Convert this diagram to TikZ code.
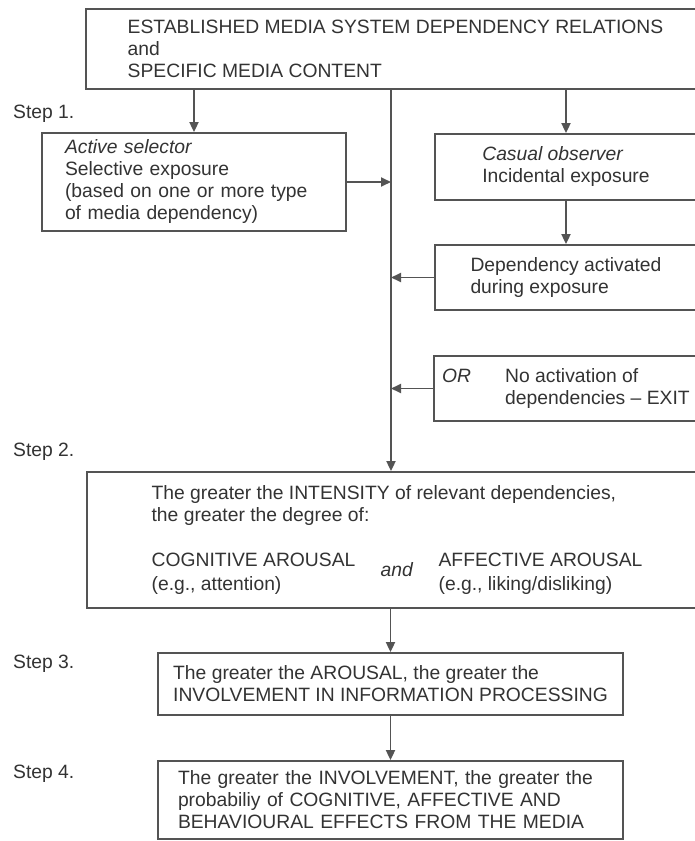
\documentclass[tikz,border=0pt]{standalone}
\usepackage{fontspec}
\setmainfont{Liberation Sans}
\usetikzlibrary{arrows.meta}
\definecolor{ink}{gray}{0.2}
\definecolor{rulegray}{gray}{0.33}
\begin{document}
\begin{tikzpicture}[x=1pt, y=-1pt,
    font=\fontsize{19.3}{22}\selectfont, text=ink,
    box/.style={draw=rulegray, line width=1.8pt, fill=white, align=left, inner sep=2pt},
    arr/.style={draw=rulegray, line width=1.8pt, -{Triangle[length=10pt,width=9pt]}},
    stepnote/.style={anchor=west, inner sep=0pt}]
  \useasboundingbox (0,0) rectangle (695,841);
  \fill[white] (0,0) rectangle (695,841);
  % top of the chart
  \node[box, minimum width=619pt, minimum height=80pt] (estab) at (395.5,49)
       {ESTABLISHED MEDIA SYSTEM DEPENDENCY RELATIONS\\and\\SPECIFIC MEDIA CONTENT};
  \coordinate (spine) at (391,89);
  % step 1
  \node[box, minimum width=304pt, minimum height=98pt, text width=258pt] (active) at (194,182)
       {\textit{Active selector}\\Selective exposure\\(based on one or more type\\of media dependency)};
  \node[box, minimum width=262pt, minimum height=66pt] (casual) at (566,167)
       {\textit{Casual observer}\\Incidental exposure};
  \node[box, minimum width=262pt, minimum height=65pt] (dep) at (566,277.5)
       {Dependency activated\\during exposure};
  \node[box, minimum width=264pt, minimum height=65pt] (exitbox) at (566,388.5)
       {\makebox[63pt][l]{\textit{OR}}No activation of\\\hspace*{63pt}dependencies -- EXIT};
  % steps 2 to 4
  \node[box, minimum width=620pt, minimum height=136pt] (step2) at (397,540)
       {The greater the INTENSITY of relevant dependencies,\\the greater the degree of:\\[23pt]
        \makebox[229pt][l]{COGNITIVE AROUSAL}\makebox[58pt][l]{\raisebox{-10pt}[0pt][0pt]{\itshape and}}AFFECTIVE AROUSAL\\[2pt]
        \makebox[287pt][l]{(e.g., attention)}(e.g., liking/disliking)};
  \node[box, minimum width=465pt, minimum height=62pt] (step3) at (390.5,684)
       {The greater the AROUSAL, the greater the\\INVOLVEMENT IN INFORMATION PROCESSING};
  \node[box, minimum width=465pt, minimum height=78pt, text width=425pt] (step4) at (390.5,800)
       {The greater the INVOLVEMENT, the greater the\\probabiliy of COGNITIVE, AFFECTIVE AND\\BEHAVIOURAL EFFECTS FROM THE MEDIA};
  % step labels
  \node[stepnote] (s1) at (13,114) {Step 1.};
  \node[stepnote] (s2) at (13,452) {Step 2.};
  \node[stepnote] (s3) at (13,664) {Step 3.};
  \node[stepnote] (s4) at (13,774) {Step 4.};
  % connectors
  \draw[arr] (active.north |- estab.south) -- (active.north);
  \draw[arr] (casual.north |- estab.south) -- (casual.north);
  \draw[arr] (casual.south) -- (dep.north);
  \draw[arr] (spine) -- (spine |- step2.north);
  \draw[arr] (active.east) -- (active.east -| spine);
  \draw[arr] (dep.west) -- (dep.west -| spine);
  \draw[arr] (exitbox.west) -- (exitbox.west -| spine);
  \draw[arr] (step2.south -| step3.north) -- (step3.north);
  \draw[arr] (step3.south) -- (step4.north);
\end{tikzpicture}
\end{document}
